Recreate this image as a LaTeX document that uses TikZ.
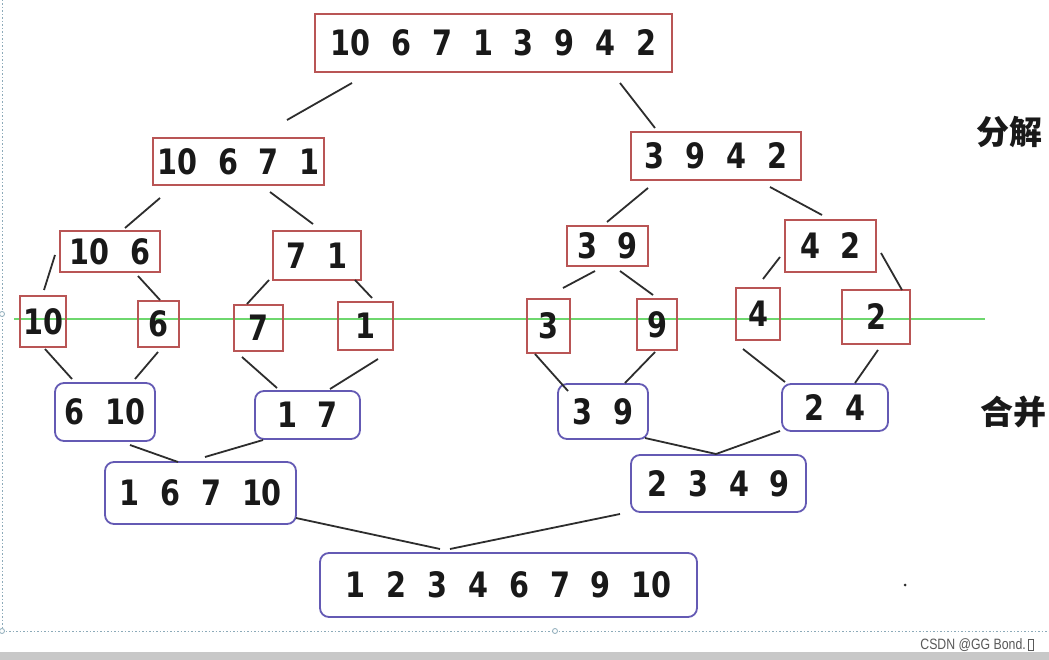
\documentclass[tikz,border=0pt]{standalone}
\usepackage{fontspec}
\setmainfont{DejaVu Sans}
\newfontfamily\numfont{DejaVu Sans}[FakeStretch=0.82]
\newfontfamily\cjkfont{Noto Sans CJK SC}
\newfontfamily\wmfont{Liberation Sans}
\newcommand\numstyle{\numfont\fontsize{35}{40}\bfseries\selectfont\spaceskip 21pt\relax}
\usetikzlibrary{calc}
\definecolor{redc}{RGB}{185,85,85}
\definecolor{bluec}{RGB}{100,90,180}
\definecolor{linec}{RGB}{45,45,45}
\definecolor{greenc}{RGB}{110,215,110}
\definecolor{dotc}{RGB}{140,170,185}
\definecolor{bandc}{RGB}{200,200,200}
\definecolor{txtc}{RGB}{25,25,25}
\begin{document}
\begin{tikzpicture}[x=1pt,y=-1pt,
  num/.style={font=\numstyle, text=txtc, inner sep=0pt},
  rbox/.style={num, draw=redc, line width=1.8pt},
  bbox/.style={num, draw=bluec, line width=1.8pt, rounded corners=9pt},
  conn/.style={draw=linec, line width=1.8pt},
  side/.style={font=\cjkfont\fontsize{33}{36}\bfseries\selectfont, text=txtc, inner sep=0pt},
  dotline/.style={draw=dotc, line width=1pt, dash pattern=on 1.5pt off 2pt},
  handle/.style={draw=dotc, fill=white, line width=0.8pt}]
\useasboundingbox (0,0) rectangle (1049,660);
\fill[white] (0,0) rectangle (1049,660);
% bottom band
\fill[bandc] (0,652) rectangle (1049,660);
% dotted frame
\draw[dotline] (2,0) -- (2,631);
\draw[dotline] (2,631) -- (1049,631);
\draw[handle] (2,314) circle (2.5pt);
\draw[handle] (2,631) circle (2.5pt);
\draw[handle] (555,631) circle (2.5pt);
% green split line
\draw[draw=greenc, line width=2.2pt] (14,319) -- (985,319);
% decomposition
\node[rbox, minimum width=357pt, minimum height=58pt] (top) at (493.5,43) {10 6 7 1 3 9 4 2};
\node[rbox, minimum width=171pt, minimum height=47pt] (l2l) at (238.5,161.5) {10 6 7 1};
\node[rbox, minimum width=170pt, minimum height=48pt] (l2r) at (716,156) {3 9 4 2};
\node[rbox, minimum width=100pt, minimum height=41pt] (l3a) at (110,251.5) {10 6};
\node[rbox, minimum width=88pt, minimum height=49pt] (l3b) at (317,255.5) {7 1};
\node[rbox, minimum width=81pt, minimum height=40pt] (l3c) at (607.5,246) {3 9};
\node[rbox, minimum width=91pt, minimum height=52pt] (l3d) at (830.5,246) {4 2};
\node[rbox, minimum width=46pt, minimum height=51pt] (n10) at (43,321.5) {10};
\node[rbox, minimum width=41pt, minimum height=46pt] (n6) at (158.5,324) {6};
\node[rbox, minimum width=49pt, minimum height=46pt] (n7) at (258.5,328) {7};
\node[rbox, minimum width=55pt, minimum height=48pt] (n1) at (365.5,326) {1};
\node[rbox, minimum width=43pt, minimum height=54pt] (n3) at (548.5,326) {3};
\node[rbox, minimum width=40pt, minimum height=51pt] (n9) at (657,324.5) {9};
\node[rbox, minimum width=44pt, minimum height=52pt] (n4) at (758,314) {4};
\node[rbox, minimum width=68pt, minimum height=54pt] (n2) at (876,317) {2};
% merge
\node[bbox, minimum width=100pt, minimum height=58pt] (m610) at (105,412) {6 10};
\node[bbox, minimum width=105pt, minimum height=48pt] (m17) at (307.5,415) {1 7};
\node[bbox, minimum width=90pt, minimum height=55pt] (m39) at (603,411.5) {3 9};
\node[bbox, minimum width=106pt, minimum height=47pt] (m24) at (835,407.5) {2 4};
\node[bbox, minimum width=191pt, minimum height=62pt] (k1) at (200.5,493) {1 6 7 10};
\node[bbox, minimum width=175pt, minimum height=57pt] (k2) at (718.5,483.5) {2 3 4 9};
\node[bbox, minimum width=377pt, minimum height=64pt] (fin) at (508.5,585) {1 2 3 4 6 7 9 10};
% connectors
\draw[conn] ($(top)+(-141.5,40)$) -- ($(l2l)+(48.5,-41.5)$);
\draw[conn] ($(top)+(126.5,40)$) -- ($(l2r)+(-61,-28)$);
\draw[conn] ($(l2l)+(-78.5,36.5)$) -- ($(l3a)+(15,-23.5)$);
\draw[conn] ($(l2l)+(31.5,30.5)$) -- ($(l3b)+(-4,-31.5)$);
\draw[conn] ($(l2r)+(-68,32)$) -- ($(l3c)+(-0.5,-24)$);
\draw[conn] ($(l2r)+(54,31)$) -- ($(l3d)+(-8.5,-31)$);
\draw[conn] ($(l3a)+(-55,3.5)$) -- ($(n10)+(1,-31.5)$);
\draw[conn] ($(l3a)+(28,24.5)$) -- ($(n6)+(1.5,-24)$);
\draw[conn] ($(l3b)+(-48,24.5)$) -- ($(n7)+(-11.5,-24)$);
\draw[conn] ($(l3b)+(38,24.5)$) -- ($(n1)+(6.5,-28)$);
\draw[conn] ($(l3c)+(-12.5,25)$) -- ($(n3)+(14.5,-38)$);
\draw[conn] ($(l3c)+(12.5,25)$) -- ($(n9)+(-4,-29.5)$);
\draw[conn] ($(l3d)+(-50.5,11)$) -- ($(n4)+(5,-35)$);
\draw[conn] ($(l3d)+(50.5,7)$) -- ($(n2)+(26,-27)$);
\draw[conn] ($(n10)+(2,27.5)$) -- ($(m610)+(-33,-33)$);
\draw[conn] ($(n6)+(-0.5,28)$) -- ($(m610)+(30,-33)$);
\draw[conn] ($(n7)+(-16.5,29)$) -- ($(m17)+(-30.5,-27)$);
\draw[conn] ($(n1)+(12.5,33)$) -- ($(m17)+(22.5,-26)$);
\draw[conn] ($(n3)+(-13.5,28)$) -- ($(m39)+(-35,-20.5)$);
\draw[conn] ($(n9)+(-2,27.5)$) -- ($(m39)+(22,-28.5)$);
\draw[conn] ($(n4)+(-15,35)$) -- ($(m24)+(-50,-25.5)$);
\draw[conn] ($(n2)+(2,33)$) -- ($(m24)+(20,-24.5)$);
\draw[conn] ($(m610)+(25,33)$) -- ($(k1)+(-22.5,-31)$);
\draw[conn] ($(m17)+(-44.5,25)$) -- ($(k1)+(4.5,-36)$);
\draw[conn] ($(m39)+(42,26.5)$) -- ($(k2)+(-2.5,-29.5)$);
\draw[conn] ($(m24)+(-55,23.5)$) -- ($(k2)+(-2.5,-29.5)$);
\draw[conn] ($(k1)+(95.5,25)$) -- ($(fin)+(-68.5,-36)$);
\draw[conn] ($(k2)+(-98.5,30.5)$) -- ($(fin)+(-58.5,-36)$);
% side labels
\node[side] (lbl1) at (1009,132) {分解};
\node[side, anchor=east] (lbl2) at (1047,412) {合并};
% stray dot
\fill[linec] (905,585) circle (1.5pt);
% watermark
\node[font=\wmfont\fontsize{15}{16}\selectfont, text=black!65, anchor=east, inner sep=0pt, transform shape, xscale=0.82] (wm) at (1026,645) {CSDN @GG Bond.};
\draw[black!65, line width=0.6pt] ($(wm.east)+(2,-6)$) rectangle ($(wm.east)+(7,5)$);
\end{tikzpicture}
\end{document}
